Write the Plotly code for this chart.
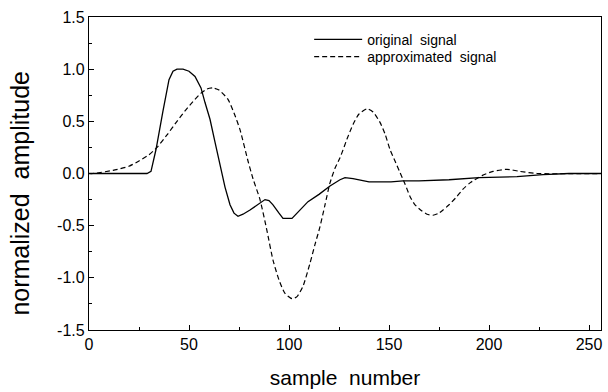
import plotly.graph_objects as go

# original signal (sample index, amplitude)
orig_x = [0, 29, 31, 33.5, 37, 40, 42, 44, 47, 50, 53, 56, 58, 60.5, 63, 65.5, 68,
          70.5, 72.5, 74.5, 77, 80.5, 84, 88, 90, 92, 95, 97, 101.5, 103, 106, 109.5,
          115, 120.5, 125.5, 128, 132, 140, 151, 157, 165, 180, 195, 214, 227, 240, 256]
orig_y = [0, 0, 0.02, 0.23, 0.6, 0.9, 0.98, 1.0, 1.0, 0.98, 0.93, 0.82, 0.68, 0.52,
          0.3, 0.07, -0.13, -0.30, -0.38, -0.41, -0.39, -0.35, -0.30, -0.25, -0.26,
          -0.30, -0.38, -0.43, -0.43, -0.40, -0.33, -0.27, -0.20, -0.12, -0.06, -0.04,
          -0.05, -0.08, -0.08, -0.07, -0.07, -0.06, -0.04, -0.03, -0.01, 0, 0]

# approximated signal
appr_x = [0, 2, 12, 20, 25, 30, 34, 39, 44, 48, 52, 56, 59, 62, 65, 69.5, 72.5, 75.5,
          79.5, 82, 85.5, 89, 92, 95, 98, 101.5, 104, 107, 110.5, 113, 115.5, 118,
          120.5, 123, 125.5, 129, 132, 135, 139, 142, 145.5, 148, 150.5, 153, 155.5,
          158, 160.5, 163, 166.5, 169, 172, 175, 177, 180, 184, 187, 190.5, 196.5,
          202, 209, 215.5, 224, 256]
appr_y = [0, 0, 0.03, 0.07, 0.12, 0.18, 0.25, 0.37, 0.5, 0.6, 0.69, 0.77, 0.81, 0.82,
          0.80, 0.71, 0.58, 0.42, 0.12, -0.05, -0.25, -0.55, -0.83, -1.02, -1.15, -1.2,
          -1.18, -1.08, -0.86, -0.68, -0.51, -0.3, -0.09, 0.05, 0.15, 0.33, 0.47, 0.57,
          0.62, 0.59, 0.49, 0.38, 0.23, 0.12, 0.01, -0.1, -0.22, -0.3, -0.36, -0.39,
          -0.40, -0.38, -0.35, -0.30, -0.22, -0.15, -0.09, -0.02, 0.02, 0.04, 0.02, 0.0, 0]

x_ticks = [0, 50, 100, 150, 200, 250]
y_ticks = [1.5, 1.0, 0.5, 0.0, -0.5, -1.0, -1.5]
y_tick_text = ["1.5", "1.0", "0.5", "0.0", "-0.5", "-1.0", "-1.5"]

FONT = "Liberation Sans, Arial, sans-serif"

fig = go.Figure()
fig.add_trace(go.Scatter(
    x=orig_x, y=orig_y, mode="lines", name="original  signal", legend="legend",
    line=dict(color="black", width=1.3),
))
fig.add_trace(go.Scatter(
    x=appr_x, y=appr_y, mode="lines", name="approximated  signal", legend="legend2",
    line=dict(color="black", width=1.2, dash="5px,3px", shape="spline", smoothing=0.6),
))

axis_common = dict(
    showgrid=False, zeroline=False, showline=True, linecolor="black", linewidth=1.3,
    mirror=True, ticks="inside", tickcolor="black", ticklen=5, tickwidth=1,
    tickfont=dict(family=FONT, size=16, color="black"),
)

fig.update_xaxes(
    range=[0, 256], tickvals=x_ticks,
    minor=dict(dtick=25, tick0=0, ticks="inside", ticklen=3, tickcolor="black"),
    title=dict(text="sample  number", font=dict(family=FONT, size=21, color="black"),
               standoff=17),
    **axis_common,
)
fig.update_yaxes(
    range=[-1.5, 1.5], tickvals=y_ticks, ticktext=y_tick_text,
    minor=dict(dtick=0.25, tick0=0, ticks="inside", ticklen=3, tickcolor="black"),
    **axis_common,
)

# vertical axis title, placed as free text so it can sit slightly below centre
fig.add_annotation(
    text="normalized  amplitude", textangle=-90,
    xref="paper", yref="paper", x=-0.134, y=0.437,
    xanchor="center", yanchor="middle", showarrow=False,
    font=dict(family=FONT, size=25, color="black"),
)

legend_style = dict(
    xanchor="left", yanchor="middle",
    bgcolor="rgba(0,0,0,0)", borderwidth=0,
    font=dict(family=FONT, size=14, color="black"),
    itemwidth=48,
)

fig.update_layout(
    width=608, height=392,
    margin=dict(l=89, r=7, t=17, b=62),
    paper_bgcolor="white", plot_bgcolor="white",
    showlegend=True,
    legend=dict(x=0.43, y=0.927, **legend_style),
    legend2=dict(x=0.43, y=0.872, **legend_style),
)

fig.write_html("out.html")
